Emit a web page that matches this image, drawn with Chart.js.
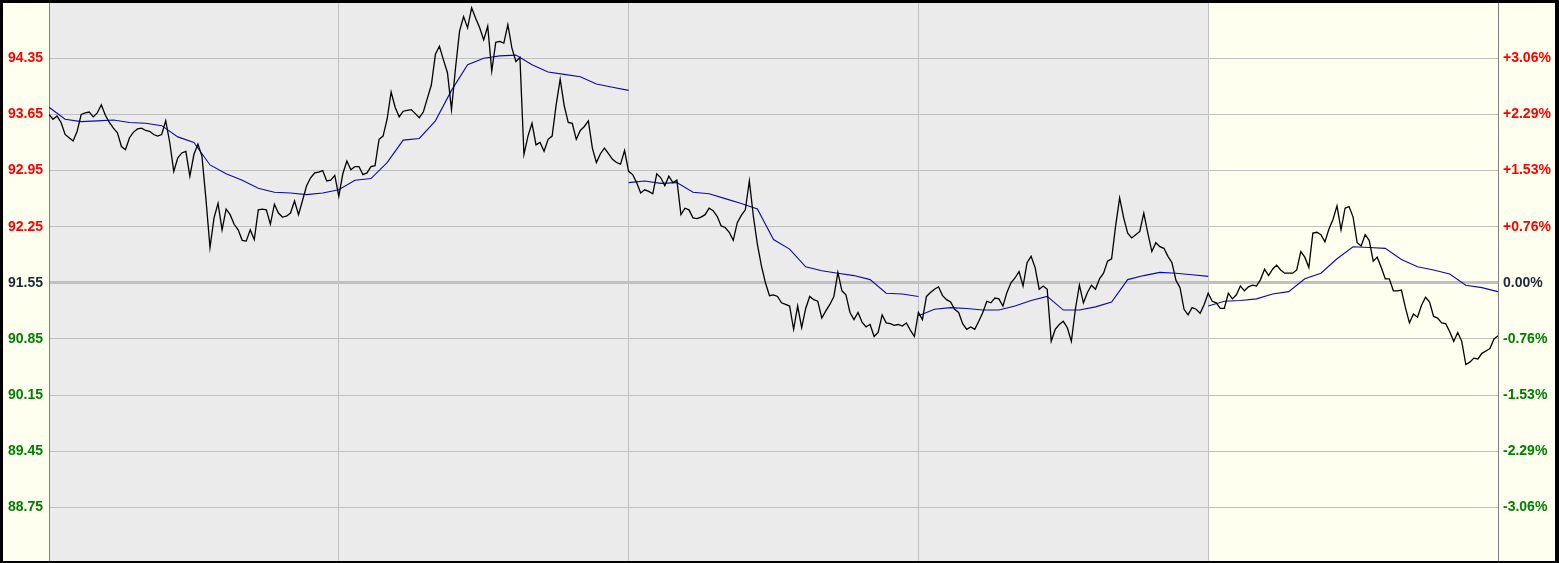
<!DOCTYPE html>
<html>
<head>
<meta charset="utf-8">
<title>Kursverlauf</title>
<script src="https://cdn.jsdelivr.net/npm/chart.js@4.4.1/dist/chart.umd.min.js"></script>
<style>
  html, body { margin: 0; padding: 0; background: #000; }
  #wrap { position: absolute; left: 3px; top: 3px; width: 1552px; height: 558px; background: #fffff0; }
</style>
</head>
<body>
<div id="wrap"><canvas id="chart"></canvas></div>
<script>
// price samples, 72 per day (last day also holds the closing point)
const day1Price = [93.65,93.59,93.63,93.55,93.40,93.36,93.32,93.44,93.65,93.67,93.68,93.62,93.67,93.77,93.64,93.55,93.48,93.42,93.25,93.21,
  93.36,93.43,93.47,93.48,93.45,93.44,93.40,93.38,93.40,93.57,93.30,92.94,93.11,93.17,93.19,92.88,93.15,93.28,93.13,92.59,
  91.99,92.36,92.54,92.21,92.47,92.40,92.28,92.21,92.08,92.07,92.21,92.09,92.46,92.47,92.46,92.28,92.53,92.42,92.37,92.38,
  92.42,92.57,92.40,92.58,92.76,92.86,92.92,92.93,92.95,92.82,92.83,92.89];
const day2Price = [92.63,92.91,93.07,92.96,93.00,93.00,92.90,92.92,93.00,93.01,93.34,93.38,93.59,93.93,93.74,93.62,93.69,93.70,93.71,93.66,
  93.61,93.68,93.85,94.02,94.40,94.50,94.33,94.17,93.71,94.23,94.69,94.87,94.73,94.98,94.85,94.73,94.58,94.75,94.19,94.55,
  94.56,94.54,94.77,94.48,94.31,94.36,93.15,93.38,93.54,93.27,93.30,93.19,93.34,93.38,93.77,94.09,93.76,93.55,93.54,93.34,
  93.45,93.50,93.57,93.23,93.05,93.16,93.23,93.16,93.09,93.05,93.03,93.20];
const day3Price = [92.94,92.90,92.80,92.67,92.71,92.69,92.66,92.91,92.86,92.76,92.88,92.80,92.83,92.40,92.48,92.46,92.36,92.35,92.37,92.40,
  92.48,92.45,92.38,92.26,92.24,92.18,92.08,92.30,92.39,92.46,92.82,92.38,92.03,91.76,91.55,91.39,91.40,91.38,91.30,91.28,
  91.26,90.97,91.26,90.99,91.23,91.38,91.34,91.32,91.11,91.20,91.28,91.38,91.68,91.45,91.40,91.18,91.09,91.18,91.06,91.00,
  91.03,90.88,90.93,91.15,91.05,91.04,91.02,91.03,91.01,91.05,90.96,90.88];
const day4Price = [91.18,91.09,91.38,91.43,91.47,91.50,91.39,91.34,91.31,91.22,91.18,91.04,90.97,91.00,90.97,91.07,91.18,91.32,91.30,91.36,
  91.35,91.26,91.43,91.55,91.61,91.69,91.51,91.80,91.88,91.74,91.47,91.51,91.47,90.82,90.97,91.03,91.07,90.99,90.82,91.22,
  91.52,91.30,91.43,91.52,91.47,91.60,91.67,91.82,91.85,92.26,92.61,92.36,92.17,92.11,92.15,92.19,92.42,92.17,91.94,92.05,
  92.00,91.98,91.88,91.80,91.58,91.49,91.22,91.15,91.24,91.22,91.17,91.28];
const day5Price = [91.42,91.32,91.30,91.23,91.23,91.42,91.35,91.40,91.51,91.45,91.50,91.52,91.51,91.59,91.72,91.64,91.72,91.77,91.71,91.67,
  91.67,91.67,91.71,91.94,91.87,91.74,92.17,92.18,92.15,92.06,92.22,92.34,92.51,92.21,92.48,92.50,92.37,92.05,92.01,92.15,
  92.08,91.82,91.87,91.74,91.60,91.60,91.45,91.45,91.46,91.24,91.05,91.16,91.12,91.27,91.37,91.31,91.13,91.11,91.05,91.04,
  90.94,90.82,90.93,90.82,90.53,90.56,90.61,90.60,90.67,90.70,90.73,90.85,90.89];

// moving average, one sample every 4 price samples; it restarts at each start day
const maStartDays = [0, 2, 3, 4];
const maSeg1 = [93.74,93.59,93.56,93.57,93.58,93.55,93.54,93.51,93.37,93.30,93.02,92.91,92.83,92.73,92.68,92.67,92.65,92.67,92.71,
  92.83,92.85,93.05,93.33,93.35,93.57,93.95,94.27,94.35,94.38,94.39,94.27,94.18,94.15,94.12,94.03,93.99,93.95];
const maSeg2 = [92.80,92.82,92.79,92.80,92.68,92.66,92.60,92.54,92.47,92.09,91.97,91.75,91.70,91.67,91.64,91.59,91.42,91.41,91.38];
const maSeg3 = [91.14,91.22,91.24,91.23,91.21,91.21,91.26,91.33,91.38,91.21,91.21,91.25,91.31,91.59,91.64,91.68,91.67,91.65,91.63];
const maSeg4 = [91.26,91.32,91.33,91.35,91.41,91.44,91.60,91.67,91.85,92.00,91.99,91.98,91.84,91.75,91.71,91.66,91.52,91.49,91.44];

const pointsPerDay = 72;
const maStep = 4;

// axis
const yMin = 88.08;
const yMax = 95.04;
const baseValue = 91.55;
const tickValues = [88.75, 89.45, 90.15, 90.85, 91.55, 92.25, 92.95, 93.65, 94.35];
const percentLabels = ['-3.06%', '-2.29%', '-1.53%', '-0.76%', '0.00%', '+0.76%', '+1.53%', '+2.29%', '+3.06%'];
const grayDays = 4; // first four days on grey background, last one on light yellow

const priceDays = [day1Price, day2Price, day3Price, day4Price, day5Price];
const priceData = [];
priceDays.forEach((vals, d) => {
  vals.forEach((v, k) => priceData.push({ x: d + k / pointsPerDay, y: v }));
});

const maSegments = [maSeg1, maSeg2, maSeg3, maSeg4];
const maDatasets = maSegments.map((vals, s) => ({
  data: vals.map((v, k) => ({ x: maStartDays[s] + k * maStep / pointsPerDay, y: v })),
  borderColor: '#0a0aa8',
  borderWidth: 1.1,
  pointRadius: 0,
  fill: false,
  tension: 0
}));

function tickColor(ctx) {
  const v = ctx.tick.value;
  if (Math.abs(v - baseValue) < 0.001) return '#1e2a3a';
  return v > baseValue ? '#ff0000' : '#008000';
}

function setTicks(scale) {
  scale.ticks = tickValues.map(v => ({ value: v }));
}

// grey background for the first days
const plotBackground = {
  id: 'plotBackground',
  beforeDraw(chart) {
    const { ctx, chartArea: a, scales: { x } } = chart;
    ctx.save();
    ctx.fillStyle = '#ebebeb';
    ctx.fillRect(a.left, a.top, x.getPixelForValue(grayDays) - a.left, a.bottom - a.top);
    ctx.restore();
  }
};

Chart.defaults.font.family = '"Liberation Sans", Arial, sans-serif';

new Chart(document.getElementById('chart'), {
  type: 'line',
  data: {
    datasets: [{
      data: priceData,
      borderColor: '#000000',
      borderWidth: 1.3,
      pointRadius: 0,
      fill: false,
      tension: 0
    }, ...maDatasets]
  },
  options: {
    responsive: true,
    maintainAspectRatio: false,
    animation: false,
    layout: { padding: 0 },
    plugins: { legend: { display: false }, tooltip: { enabled: false } },
    scales: {
      x: {
        type: 'linear',
        min: 0,
        max: 5,
        ticks: { display: false, stepSize: 1 },
        grid: {
          drawTicks: false,
          color: ctx => (ctx.tick.value === 0 || ctx.tick.value === 5) ? 'rgba(0,0,0,0)' : '#c0c0c0'
        },
        border: { display: false },
        afterFit: s => { s.height = 0; s.paddingLeft = 0; s.paddingRight = 0; }
      },
      y: {
        position: 'left',
        min: yMin,
        max: yMax,
        afterBuildTicks: setTicks,
        ticks: {
          color: tickColor,
          font: { size: 14, weight: 'bold' },
          padding: 6,
          callback: v => v.toFixed(2)
        },
        grid: {
          drawTicks: false,
          color: '#c0c0c0',
          lineWidth: ctx => Math.abs(ctx.tick.value - baseValue) < 0.001 ? 3 : 1
        },
        border: { color: '#808080' },
        afterFit: s => { s.width = 46; s.paddingTop = 0; s.paddingBottom = 0; }
      },
      y2: {
        position: 'right',
        min: yMin,
        max: yMax,
        afterBuildTicks: setTicks,
        ticks: {
          color: tickColor,
          font: { size: 14, weight: 'bold' },
          padding: 5,
          callback: (v, i) => percentLabels[i]
        },
        grid: { drawOnChartArea: false, drawTicks: false },
        border: { color: '#808080' },
        afterFit: s => { s.width = 57; s.paddingTop = 0; s.paddingBottom = 0; }
      }
    }
  },
  plugins: [plotBackground]
});
</script>
</body>
</html>
